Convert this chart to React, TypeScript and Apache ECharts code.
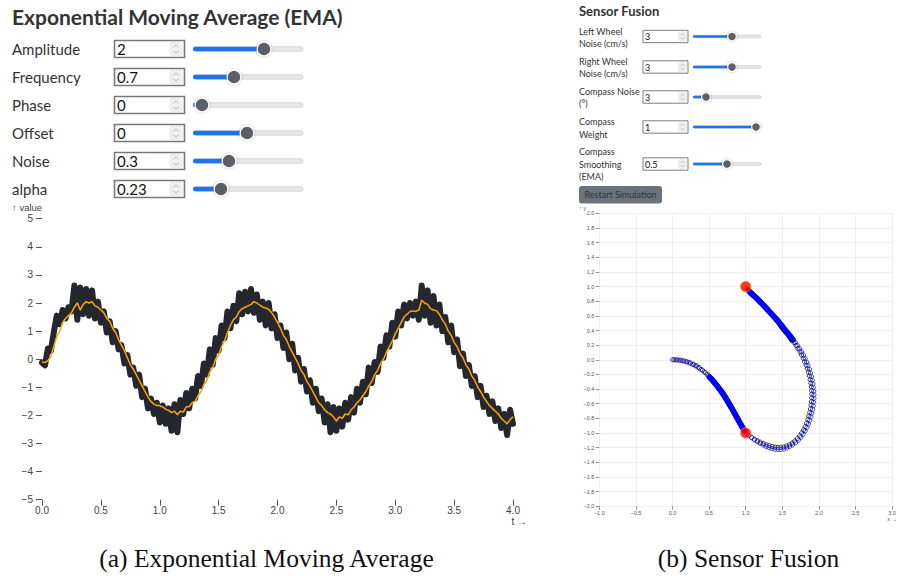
import React, { useEffect, useRef } from "react";
import * as echarts from "echarts";

// ---------------- Data: Exponential Moving Average panel ----------------
const T_STEP = 0.025; // sampling step of t (0 .. 4)
const NOISY_SIGNAL = [
  -0.12, -0.22, 0.38, 0.3, 0.95, 1.55, 1.25, 1.75, 1.45, 1.85,
  1.7, 2.62, 1.4, 2.55, 1.6, 2.5, 1.55, 2.45, 1.45, 2.05,
  1.3, 1.7, 0.95, 1.35, 0.6, 1.0, 0.35, 0.5, -0.15, 0.15,
  -0.55, -0.3, -0.95, -0.55, -1.35, -1.05, -1.75, -1.4, -1.95, -1.55,
  -2.25, -1.65, -2.3, -1.75, -2.55, -1.6, -2.6, -1.45, -1.95, -1.2,
  -1.75, -1.05, -1.4, -0.6, -0.95, -0.15, -0.55, 0.35, -0.2, 0.75,
  0.3, 1.2, 0.75, 1.7, 1.1, 1.9, 1.35, 2.35, 1.6, 2.4,
  1.7, 2.5, 1.65, 2.3, 1.4, 2.05, 1.2, 2.0, 1.1, 1.6,
  0.75, 1.2, 0.4, 0.95, 0.0, 0.55, -0.4, 0.05, -0.8, -0.35,
  -1.15, -0.75, -1.55, -1.05, -1.85, -1.4, -2.25, -1.6, -2.6, -1.7,
  -2.55, -1.75, -2.4, -1.55, -2.15, -1.35, -1.9, -1.05, -1.55, -0.8,
  -1.25, -0.3, -0.85, -0.1, -0.45, 0.45, 0.05, 0.85, 0.45, 1.3,
  0.8, 1.7, 1.2, 1.95, 1.45, 2.0, 1.55, 2.05, 1.4, 2.62,
  1.55, 2.45, 1.3, 2.25, 1.2, 1.95, 1.0, 1.5, 0.6, 1.2,
  0.25, 0.7, -0.25, 0.2, -0.6, -0.2, -0.95, -0.6, -1.35, -0.95,
  -1.7, -1.3, -1.95, -1.5, -2.2, -1.75, -2.45, -1.95, -2.7, -1.8,
  -2.3,
];
const EMA_SIGNAL = [
  -0.1, -0.12, -0.05, 0.1, 0.45, 0.8, 1.0, 1.3, 1.45, 1.55,
  1.65, 1.85, 2.0, 1.75, 1.95, 2.05, 2.0, 2.05, 1.9, 1.85,
  1.75, 1.65, 1.45, 1.35, 1.1, 0.95, 0.7, 0.5, 0.3, 0.05,
  -0.2, -0.35, -0.55, -0.75, -0.95, -1.15, -1.35, -1.5, -1.6, -1.65,
  -1.65, -1.7, -1.78, -1.82, -1.9, -1.85, -1.97, -1.85, -1.88, -1.7,
  -1.68, -1.55, -1.5, -1.3, -1.15, -0.9, -0.75, -0.45, -0.3, 0.0,
  0.15, 0.45, 0.65, 0.95, 1.2, 1.4, 1.5, 1.7, 1.8, 1.85,
  1.9, 1.95, 2.05, 2.0, 1.92, 1.85, 1.82, 1.78, 1.65, 1.5,
  1.3, 1.1, 0.85, 0.7, 0.45, 0.25, 0.05, -0.15, -0.4, -0.55,
  -0.8, -0.95, -1.15, -1.35, -1.55, -1.65, -1.8, -1.9, -1.95, -2.05,
  -2.2, -2.05, -2.1, -1.95, -1.98, -1.8, -1.7, -1.55, -1.45, -1.3,
  -1.15, -0.95, -0.8, -0.55, -0.4, -0.15, 0.0, 0.25, 0.45, 0.65,
  0.9, 1.1, 1.3, 1.5, 1.6, 1.7, 1.72, 1.7, 1.75, 2.1,
  2.0, 1.95, 1.8, 1.75, 1.72, 1.6, 1.4, 1.25, 1.0, 0.85,
  0.6, 0.45, 0.2, 0.05, -0.2, -0.35, -0.6, -0.75, -1.0, -1.15,
  -1.35, -1.5, -1.65, -1.75, -1.85, -1.95, -2.1, -2.2, -2.3, -2.15,
  -2.05,
];

const EMA_CONTROLS = ["Amplitude", "Frequency", "Phase", "Offset", "Noise", "alpha"];
const EMA_CONTROL_VALUES = ["2", "0.7", "0", "0", "0.3", "0.23"];

// ---------------- Data: Sensor Fusion panel ----------------
const FUSION_CONTROLS = [
  ["Left Wheel", "Noise (cm/s)"],
  ["Right Wheel", "Noise (cm/s)"],
  ["Compass Noise", "(°)"],
  ["Compass", "Weight"],
  ["Compass", "Smoothing", "(EMA)"],
];
const FUSION_CONTROL_VALUES = ["3", "3", "3", "1", "0.5"];

// blue (fused estimate) – individually visible samples
const BLUE_RINGS = [
  [0, 0], [0.045, 0], [0.09, -0.004], [0.135, -0.012], [0.18, -0.024], [0.225, -0.04],
  [0.27, -0.06], [0.31, -0.08], [0.35, -0.105], [0.39, -0.133], [0.43, -0.165], [0.47, -0.2],
  [0.505, -0.235],
  [1.04, -1.035], [1.08, -1.065], [1.12, -1.095], [1.16, -1.12], [1.2, -1.145], [1.24, -1.165],
  [1.28, -1.185], [1.32, -1.2], [1.36, -1.213], [1.4, -1.222], [1.44, -1.226], [1.48, -1.225],
  [1.52, -1.218], [1.56, -1.205], [1.6, -1.187], [1.64, -1.163], [1.68, -1.133], [1.72, -1.097],
  [1.755, -1.058], [1.785, -1.017], [1.812, -0.972], [1.836, -0.925], [1.857, -0.877],
  [1.875, -0.828], [1.891, -0.778], [1.904, -0.728], [1.915, -0.678], [1.923, -0.628],
  [1.929, -0.578], [1.932, -0.528], [1.932, -0.478], [1.93, -0.428], [1.925, -0.378],
  [1.918, -0.328], [1.909, -0.278], [1.898, -0.228], [1.885, -0.178], [1.87, -0.128],
  [1.853, -0.079], [1.834, -0.031], [1.813, 0.016], [1.79, 0.062], [1.765, 0.107],
  [1.738, 0.151], [1.709, 0.193], [1.679, 0.234], [1.648, 0.273],
];
// blue – stretches where samples overlap into a solid band
const BLUE_DENSE_A = [
  [0.505, -0.235], [0.55, -0.285], [0.6, -0.345], [0.65, -0.41], [0.7, -0.48], [0.75, -0.56],
  [0.8, -0.645], [0.85, -0.735], [0.9, -0.825], [0.95, -0.915], [0.985, -0.97],
];
const BLUE_DENSE_B = [
  [1.648, 0.273], [1.615, 0.315], [1.58, 0.36], [1.54, 0.405], [1.5, 0.46], [1.45, 0.52],
  [1.4, 0.575], [1.35, 0.63], [1.3, 0.685], [1.25, 0.74], [1.2, 0.79], [1.15, 0.84],
  [1.1, 0.885], [1.065, 0.915],
];
// black (odometry) samples
const BLACK_RINGS = [
  [0.02, 0], [0.065, -0.002], [0.11, -0.007], [0.155, -0.016], [0.2, -0.028], [0.245, -0.044],
  [0.29, -0.063], [0.33, -0.084], [0.37, -0.11], [0.41, -0.142], [0.45, -0.175], [0.49, -0.212],
  [0.525, -0.25],
  [1.04, -1.03], [1.08, -1.058], [1.12, -1.085], [1.16, -1.105], [1.2, -1.125], [1.24, -1.142],
  [1.28, -1.16], [1.32, -1.172], [1.36, -1.184], [1.4, -1.193], [1.44, -1.196], [1.48, -1.195],
  [1.52, -1.19], [1.56, -1.177], [1.6, -1.16], [1.635, -1.138], [1.67, -1.11], [1.705, -1.077],
  [1.737, -1.04], [1.765, -1.0], [1.79, -0.958], [1.812, -0.913], [1.832, -0.866],
  [1.849, -0.818], [1.863, -0.769], [1.875, -0.72], [1.885, -0.67], [1.892, -0.62],
  [1.898, -0.57], [1.901, -0.52], [1.902, -0.47], [1.9, -0.42], [1.896, -0.37], [1.889, -0.32],
  [1.88, -0.27], [1.869, -0.22], [1.856, -0.17], [1.841, -0.122], [1.825, -0.074],
  [1.806, -0.027], [1.786, 0.02], [1.764, 0.066], [1.74, 0.11], [1.715, 0.153], [1.688, 0.195],
  [1.66, 0.236], [1.63, 0.276],
];
const BLACK_DENSE_A = [
  [0.525, -0.255], [0.57, -0.305], [0.62, -0.37], [0.67, -0.435], [0.72, -0.51], [0.77, -0.595],
  [0.82, -0.68], [0.87, -0.77], [0.92, -0.86], [0.96, -0.93], [0.985, -0.97],
];
const BLACK_DENSE_B = [
  [1.63, 0.276], [1.6, 0.32], [1.565, 0.365], [1.53, 0.405], [1.49, 0.455], [1.45, 0.515],
  [1.4, 0.572], [1.35, 0.628], [1.3, 0.683], [1.25, 0.738], [1.2, 0.79], [1.15, 0.84],
  [1.1, 0.887], [1.06, 0.925], [1.035, 0.952],
];
const WAYPOINTS = [[1, 1], [1, -1]];

// ---------------- Layout (pixels) ----------------
const UI_FONT = "Lato, 'Noto Sans', sans-serif";
const AXIS_FONT = "'Liberation Sans', Arial, sans-serif";
const LEFT_ROW_Y = [49, 77, 105, 133, 161, 189];
const LEFT_THUMB_X = [264, 234, 202, 247, 229, 221];
const RIGHT_BOX_Y = [36.5, 67, 97, 127, 164];
const RIGHT_LABEL_Y = [31, 61, 91, 121.5, 151.5];
const RIGHT_THUMB_X = [732, 732, 706, 756, 727];

const minus = (s: string) => s.replace("-", "\u2212");

function text(x: number, y: number, t: string, size: number, extra: any = {}) {
  const align = extra.align || "left";
  return {
    type: "text",
    x,
    y,
    silent: true,
    style: {
      text: t,
      fontSize: size,
      fontFamily: extra.fontFamily || UI_FONT,
      fontWeight: extra.fontWeight || "normal",
      fill: extra.fill || "#333",
      align,
      textAlign: align,
      verticalAlign: "middle",
      textVerticalAlign: "middle",
    },
  };
}

function spinner(x: number, cy: number, w: number, h: number) {
  const mx = x + w / 2;
  const a = w * 0.22;
  const d = h * 0.12;
  return [
    {
      type: "rect",
      silent: true,
      shape: { x, y: cy - h / 2, width: w, height: h, r: 2 },
      style: { fill: "#f0f0f0", stroke: "#e2e2e2", lineWidth: 0.5 },
    },
    {
      type: "polyline",
      silent: true,
      shape: { points: [[mx - a, cy - d], [mx, cy - d - a], [mx + a, cy - d]] },
      style: { stroke: "#a8a8a8", lineWidth: 0.8, fill: "none" },
    },
    {
      type: "polyline",
      silent: true,
      shape: { points: [[mx - a, cy + d], [mx, cy + d + a], [mx + a, cy + d]] },
      style: { stroke: "#a8a8a8", lineWidth: 0.8, fill: "none" },
    },
  ];
}

function slider(x0: number, x1: number, cy: number, thumbX: number, trackH: number, r: number) {
  return [
    {
      type: "rect",
      silent: true,
      shape: { x: x0, y: cy - trackH / 2, width: x1 - x0, height: trackH, r: trackH / 2 },
      style: { fill: "#e8e8ec", stroke: "#c4c4c8", lineWidth: 0.6 },
    },
    {
      type: "rect",
      silent: true,
      shape: { x: x0, y: cy - trackH / 2, width: thumbX - x0, height: trackH, r: trackH / 2 },
      style: { fill: "#1b74e8" },
    },
    {
      type: "circle",
      silent: true,
      shape: { cx: thumbX, cy, r },
      style: {
        fill: "#5d5f67",
        stroke: "#ffffff",
        lineWidth: 1.2,
        shadowBlur: 2,
        shadowColor: "rgba(0,0,0,0.35)",
      },
    },
  ];
}

function buildGraphics() {
  const els: any[] = [];
  // Left panel header and controls
  els.push(text(12, 16, "Exponential Moving Average (EMA)", 21, { fontWeight: "bold", fill: "#333" }));
  EMA_CONTROLS.forEach((label, i) => {
    const cy = LEFT_ROW_Y[i];
    els.push(text(12, cy, label, 15, { fill: "#333" }));
    els.push({
      type: "rect",
      silent: true,
      shape: { x: 114.5, y: cy - 8.5, width: 70, height: 17 },
      style: { fill: "#fff", stroke: "#787878", lineWidth: 1.6 },
    });
    els.push(text(117, cy, EMA_CONTROL_VALUES[i], 15, { fill: "#111" }));
    els.push(...spinner(170, cy, 12, 13));
    els.push(...slider(193, 303, cy, LEFT_THUMB_X[i], 4.5, 6.8));
  });

  // Right panel header and controls
  els.push(text(579, 10.5, "Sensor Fusion", 13, { fontWeight: "bold", fill: "#333" }));
  FUSION_CONTROLS.forEach((lines, i) => {
    lines.forEach((ln, j) => {
      els.push(text(579, RIGHT_LABEL_Y[i] + j * 12.6, ln, 9, { fill: "#333" }));
    });
    const cy = RIGHT_BOX_Y[i];
    els.push({
      type: "rect",
      silent: true,
      shape: { x: 643, y: cy - 6.2, width: 45, height: 12.4 },
      style: { fill: "#fff", stroke: "#7c7c7c", lineWidth: 1 },
    });
    els.push(text(645, cy, FUSION_CONTROL_VALUES[i], 9, { fill: "#111" }));
    els.push(...spinner(678.5, cy, 8, 9));
    els.push(...slider(693, 761, cy, RIGHT_THUMB_X[i], 2.6, 4.4));
  });
  els.push({
    type: "rect",
    silent: true,
    shape: { x: 579, y: 186, width: 83, height: 17.5, r: 3 },
    style: { fill: "#6c737c" },
  });
  els.push(text(620.5, 194.8, "Restart Simulation", 9, { align: "center", fill: "#2f3338" }));

  // axis names
  els.push(text(12, 207.5, "\u2191 value", 9.5, { fontFamily: AXIS_FONT, fill: "#444" }));
  els.push(text(527, 521, "t \u2192", 10, { fontFamily: AXIS_FONT, fill: "#444", align: "right" }));
  els.push(text(579, 208, "\u2191 y", 5.5, { fontFamily: AXIS_FONT, fill: "#555" }));
  els.push(text(897, 518.5, "x \u2192", 5.5, { fontFamily: AXIS_FONT, fill: "#555", align: "right" }));

  // captions
  const capFont = "'Liberation Serif', 'DejaVu Serif', serif";
  els.push(text(266.5, 558, "(a) Exponential Moving Average", 25.5, { fontFamily: capFont, fill: "#111", align: "center" }));
  els.push(text(748.5, 558, "(b) Sensor Fusion", 25.5, { fontFamily: capFont, fill: "#111", align: "center" }));
  return els;
}

function buildOption() {
  const noisy = NOISY_SIGNAL.map((v, i) => [i * T_STEP, v]);
  const ema = EMA_SIGNAL.map((v, i) => [i * T_STEP, v]);

  const ring = (color: string) => ({
    type: "scatter",
    xAxisIndex: 1,
    yAxisIndex: 1,
    symbol: "circle",
    symbolSize: 4.2,
    silent: true,
    itemStyle: { color: "rgba(0,0,0,0)", borderColor: color, borderWidth: 0.9 },
  });
  const band = (color: string, data: number[][]) => ({
    type: "line",
    xAxisIndex: 1,
    yAxisIndex: 1,
    data,
    symbol: "none",
    silent: true,
    lineStyle: { color, width: 5.6, cap: "round", join: "round" },
  });

  return {
    animation: false,
    backgroundColor: "#ffffff",
    textStyle: { fontFamily: AXIS_FONT },
    grid: [
      { left: 42, top: 218.7, width: 471, height: 281 },
      { left: 599.3, top: 213.4, width: 292.8, height: 292.8 },
    ],
    xAxis: [
      {
        gridIndex: 0,
        type: "value",
        min: 0,
        max: 4,
        interval: 0.5,
        axisLine: { show: false, onZero: false },
        axisTick: { show: true, length: 6, lineStyle: { color: "#555", width: 1 } },
        axisLabel: {
          fontSize: 10,
          color: "#444",
          margin: 6,
          showMinLabel: true,
          showMaxLabel: true,
          formatter: (v: number) => minus(v.toFixed(1)),
        },
        splitLine: { show: false },
      },
      {
        gridIndex: 1,
        type: "value",
        min: -1,
        max: 3,
        interval: 0.5,
        axisLine: { show: false, onZero: false },
        axisTick: { show: true, length: 3.5, lineStyle: { color: "#777", width: 0.8 } },
        axisLabel: {
          fontSize: 5.5,
          color: "#555",
          margin: 4,
          showMinLabel: true,
          showMaxLabel: true,
          formatter: (v: number) => minus(v.toFixed(1)),
        },
        splitLine: { show: true, lineStyle: { color: "#ebebeb", width: 0.8 } },
      },
    ],
    yAxis: [
      {
        gridIndex: 0,
        type: "value",
        min: -5,
        max: 5,
        interval: 1,
        axisLine: { show: false, onZero: false },
        axisTick: { show: true, length: 6, lineStyle: { color: "#555", width: 1 } },
        axisLabel: {
          fontSize: 10,
          color: "#444",
          margin: 9,
          showMinLabel: true,
          showMaxLabel: true,
          formatter: (v: number) => minus(String(Math.round(v))),
        },
        splitLine: { show: false },
      },
      {
        gridIndex: 1,
        type: "value",
        min: -2,
        max: 2,
        interval: 0.2,
        axisLine: { show: false, onZero: false },
        axisTick: { show: true, length: 3.5, lineStyle: { color: "#777", width: 0.8 } },
        axisLabel: {
          fontSize: 5.5,
          color: "#555",
          margin: 5,
          showMinLabel: true,
          showMaxLabel: true,
          formatter: (v: number) => minus(v.toFixed(1)),
        },
        splitLine: { show: true, lineStyle: { color: "#ebebeb", width: 0.8 } },
      },
    ],
    series: [
      {
        type: "line",
        xAxisIndex: 0,
        yAxisIndex: 0,
        data: noisy,
        symbol: "none",
        silent: true,
        lineStyle: { color: "#24282e", width: 6, cap: "round", join: "round" },
      },
      {
        type: "line",
        xAxisIndex: 0,
        yAxisIndex: 0,
        data: ema,
        symbol: "none",
        silent: true,
        lineStyle: { color: "#ffa500", width: 1.5, join: "round" },
      },
      band("#000000", BLACK_DENSE_A),
      band("#000000", BLACK_DENSE_B),
      { ...ring("#000000"), data: BLACK_RINGS },
      { ...ring("#0000ff"), data: BLUE_RINGS },
      band("#0000ff", BLUE_DENSE_A),
      band("#0000ff", BLUE_DENSE_B),
      {
        type: "scatter",
        xAxisIndex: 1,
        yAxisIndex: 1,
        data: WAYPOINTS,
        symbol: "circle",
        symbolSize: 10.5,
        silent: true,
        itemStyle: { color: "#ff0000", borderColor: "#ffa500", borderWidth: 1 },
        z: 5,
      },
    ],
    graphic: { elements: buildGraphics() },
  };
}

export default function App() {
  const ref = useRef<HTMLDivElement>(null);
  useEffect(() => {
    document.body.style.margin = "0";
    const chart = echarts.init(ref.current as HTMLDivElement, null, {
      renderer: "svg",
      width: 899,
      height: 576,
    });
    chart.setOption(buildOption() as any);
    return () => chart.dispose();
  }, []);
  return (
    <div
      ref={ref}
      style={{ width: 899, height: 576, position: "absolute", left: 0, top: 0, background: "#fff" }}
    />
  );
}
